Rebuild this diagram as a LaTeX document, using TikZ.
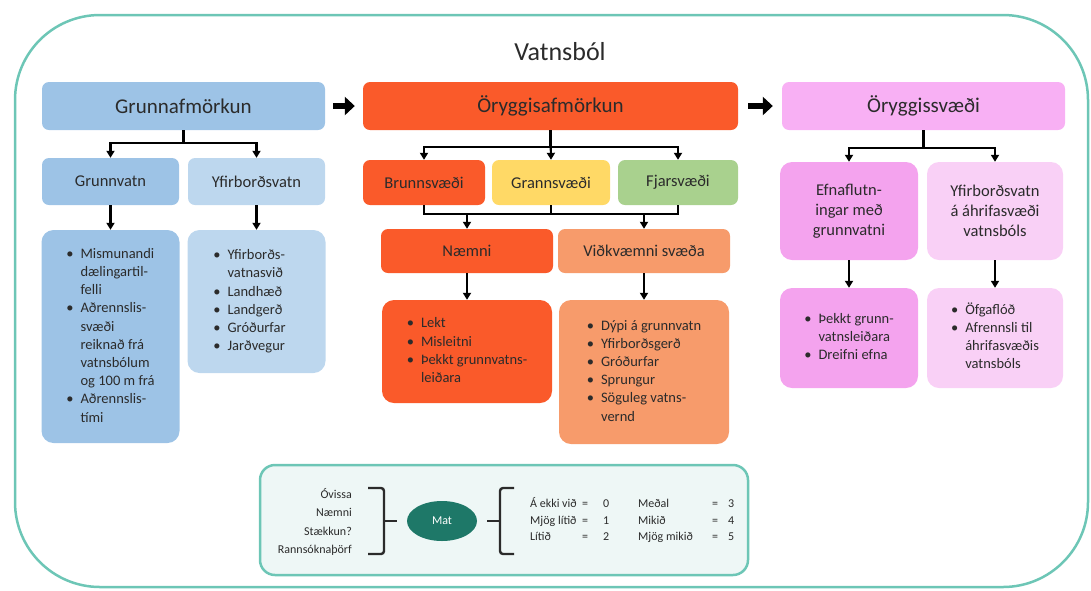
\documentclass[tikz,border=0pt]{standalone}
\usepackage{fontspec}
\setmainfont{Carlito}
\usetikzlibrary{arrows.meta,shapes.geometric}
\definecolor{bluea}{HTML}{9DC3E6}
\definecolor{blueb}{HTML}{BDD7EE}
\definecolor{redo}{HTML}{FA5A2A}
\definecolor{salm}{HTML}{F79B6B}
\definecolor{yel}{HTML}{FFD966}
\definecolor{grn}{HTML}{A9D18E}
\definecolor{pinkh}{HTML}{F8B0F4}
\definecolor{pinka}{HTML}{F4A3EE}
\definecolor{pinkb}{HTML}{F9D0F6}
\definecolor{tealb}{HTML}{6DC6B6}
\definecolor{matc}{HTML}{1E7868}
\definecolor{bgbox}{HTML}{EEF7F6}
\definecolor{txt}{HTML}{2B2B2B}
\newcommand\ttlfont{\fontsize{26}{30}\selectfont}
\newcommand\hdfont{\fontsize{21}{25}\selectfont}
\newcommand\sbfont{\fontsize{16.5}{20}\selectfont}
\newcommand\lsfont{\fontsize{14.5}{18.2}\selectfont}
\newcommand\smfont{\fontsize{12}{18.3}\selectfont}
\newcommand\scfont{\fontsize{12}{16.5}\selectfont}
\newcommand\bu{\textbullet}
\begin{document}
\begin{tikzpicture}[x=1pt,y=-1pt,
  box/.style={rectangle, rounded corners=7pt, inner sep=0pt, text=txt, align=center},
  lbox/.style={rectangle, rounded corners=12pt, inner sep=0pt, text=txt, font=\lsfont},
  conn/.style={draw=black, line width=2.2pt, -{Triangle[length=7pt,width=8pt]}},
  jline/.style={draw=black, line width=2.2pt},
  bigarrow/.style={draw=black, line width=6.5pt, -{Triangle[length=10pt,width=18pt]}},
  brk/.style={draw=txt, line width=2.4pt, rounded corners=3pt}
]
\useasboundingbox (0,0) rectangle (1091,590);
% outer frame
\draw[draw=tealb, line width=2.5pt, rounded corners=85pt] (15,15) rectangle (1088,587);
\node[text=txt] (title) at (560,52) {\ttlfont Vatnsból};

% header boxes
\node[box, fill=bluea, minimum width=283pt, minimum height=48pt, font=\hdfont] (g0) at (183.5,106) {Grunnafmörkun};
\node[box, fill=redo, minimum width=375pt, minimum height=48pt, font=\hdfont] (m0) at (550.5,106) {Öryggisafmörkun};
\node[box, fill=pinkh, minimum width=283pt, minimum height=48pt, font=\hdfont] (r0) at (923.5,106) {Öryggissvæði};

\draw[bigarrow, shorten <=8pt, shorten >=8pt] (g0.east) -- (m0.west);
\draw[bigarrow, shorten <=10pt, shorten >=9pt] (m0.east) -- (r0.west);

% left group
\node[box, fill=bluea, minimum width=137pt, minimum height=47pt, font=\sbfont] (g1) at (110.5,181.5) {Grunnvatn};
\node[box, fill=blueb, minimum width=137pt, minimum height=47pt, font=\sbfont] (g2) at (256.5,181.5) {Yfirborðsvatn};
\node[lbox, fill=bluea, minimum width=138pt, minimum height=213pt] (g3) at (110.5,336.5) {%
\begin{tabular}{@{}l@{\hspace{7pt}}l@{}}
\bu & Mismunandi\\ & dælingartil-\\ & felli\\
\bu & Aðrennslis-\\ & svæði\\ & reiknað frá\\ & vatnsbólum\\ & og 100 m frá\\
\bu & Aðrennslis-\\ & tími
\end{tabular}};
\node[lbox, fill=blueb, minimum width=138pt, minimum height=143pt] (g4) at (256.5,301.5) {%
\begin{tabular}{@{}l@{\hspace{7pt}}l@{}}
\bu & Yfirborðs-\\ & vatnasvið\\
\bu & Landhæð\\ \bu & Landgerð\\ \bu & Gróðurfar\\ \bu & Jarðvegur
\end{tabular}\hspace*{14pt}};
\draw[conn] (g0.south) -- ++(0,13) -| (g1.north);
\draw[conn] (g0.south) -- ++(0,13) -| (g2.north);
\draw[conn] (g1.south) -- (g3.north);
\draw[conn] (g2.south) -- (g4.north);

% middle group
\node[box, fill=redo, minimum width=122pt, minimum height=45pt, font=\sbfont] (m1) at (424,182.5) {Brunnsvæði};
\node[box, fill=yel, minimum width=118pt, minimum height=45pt, font=\sbfont] (m2) at (551,182.5) {Grannsvæði};
\node[box, fill=grn, minimum width=120pt, minimum height=45pt, font=\sbfont] (m3) at (678,182.5) {Fjarsvæði};
\draw[conn] (m0.south) -- ++(0,17) -| (m1.north);
\draw[conn] (m0.south) -- ++(0,17) -| (m3.north);
\draw[conn] (m0.south) -- (m2.north);
\node[box, fill=redo, minimum width=172pt, minimum height=44pt, font=\sbfont] (m4) at (467,251) {Næmni};
\node[box, fill=salm, minimum width=172pt, minimum height=44pt, font=\sbfont] (m5) at (644,251) {Viðkvæmni svæða};
\draw[jline] (m1.south) -- ++(0,9) -| (m3.south);
\draw[jline] (m2.south) -- ++(0,9);
\coordinate (j1) at (467,214);
\coordinate (j2) at (644,214);
\draw[conn] (j1) -- (m4.north);
\draw[conn] (j2) -- (m5.north);
\node[lbox, fill=redo, minimum width=170pt, minimum height=103pt] (m6) at (467,351.5) {%
\begin{tabular}{@{}l@{\hspace{7pt}}l@{}}
\bu & Lekt\\ \bu & Misleitni\\ \bu & Þekkt grunnvatns-\\ & leiðara
\end{tabular}};
\node[lbox, fill=salm, minimum width=170pt, minimum height=144pt] (m7) at (644,372) {%
\begin{tabular}{@{}l@{\hspace{7pt}}l@{}}
\bu & Dýpi á grunnvatn\\ \bu & Yfirborðsgerð\\ \bu & Gróðurfar\\ \bu & Sprungur\\ \bu & Söguleg vatns-\\ & vernd
\end{tabular}};
\draw[conn] (m4.south) -- (m6.north);
\draw[conn] (m5.south) -- (m7.north);

% right group
\node[lbox, fill=pinka, minimum width=138pt, minimum height=98pt, font=\sbfont, align=center] (r1) at (849,211) {Efnaflutn-\\ingar með\\grunnvatni};
\node[lbox, fill=pinkb, minimum width=136pt, minimum height=98pt, font=\sbfont, align=center] (r2) at (995,211) {Yfirborðsvatn\\á áhrifasvæði\\vatnsbóls};
\draw[conn] (r0.south) -- ++(0,18) -| (r1.north);
\draw[conn] (r0.south) -- ++(0,18) -| (r2.north);
\node[lbox, fill=pinka, minimum width=138pt, minimum height=100pt] (r3) at (849,338) {%
\begin{tabular}{@{}l@{\hspace{7pt}}l@{}}
\bu & Þekkt grunn-\\ & vatnsleiðara\\ \bu & Dreifni efna
\end{tabular}\raisebox{0pt}[0pt][18pt]{}};
\node[lbox, fill=pinkb, minimum width=136pt, minimum height=100pt] (r4) at (995,338) {%
\begin{tabular}{@{}l@{\hspace{7pt}}l@{}}
\bu & Öfgaflóð\\ \bu & Afrennsli til\\ & áhrifasvæðis\\ & vatnsbóls
\end{tabular}};
\draw[conn] (r1.south) -- (r3.north);
\draw[conn] (r2.south) -- (r4.north);

% bottom box
\node[draw=tealb, line width=2.5pt, fill=bgbox, rounded corners=15pt, minimum width=488pt, minimum height=110pt, inner sep=0pt] (leg) at (504,520) {};
\node[text=txt, align=right, font=\smfont, anchor=east, inner sep=0pt] (crit) at (352,522) {Óvissa\\Næmni\\Stækkun?\\Rannsóknaþörf};
\node[ellipse, fill=matc, text=white, minimum width=70pt, minimum height=40pt, inner sep=0pt, font=\scfont] (mat) at (442,521) {Mat};
\draw[brk] (368,488) -- (384,488) -- (384,554) -- (368,554);
\draw[brk, shorten >=10pt] (384,521) -- (mat.west);
\draw[brk] (514,488) -- (500,488) -- (500,554) -- (514,554);
\draw[brk, shorten <=10pt] (mat.east) -- (500,521);
\node[text=txt, font=\scfont, anchor=west, inner sep=0pt] (scale) at (530,521) {%
\begin{tabular}{@{}p{52pt}@{}p{21pt}@{}p{35pt}@{}p{74pt}@{}p{16pt}@{}l@{}}
Á ekki við & = & 0 & Meðal & = & 3\\
Mjög lítið & = & 1 & Mikið & = & 4\\
Lítið & = & 2 & Mjög mikið & = & 5
\end{tabular}};
\end{tikzpicture}
\end{document}
